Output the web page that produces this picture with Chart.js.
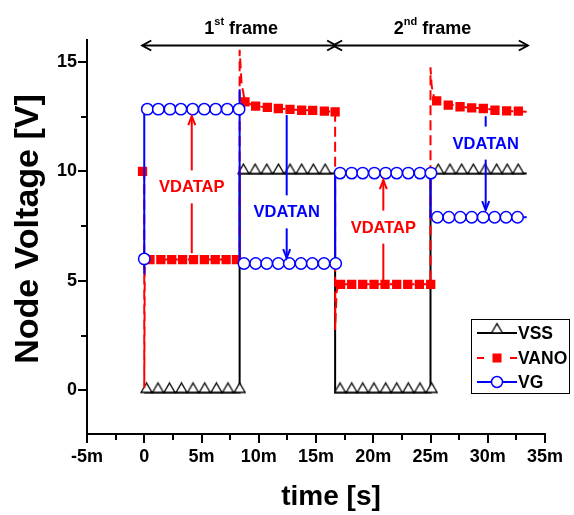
<!DOCTYPE html>
<html>
<head>
<meta charset="utf-8">
<script src="https://cdn.jsdelivr.net/npm/chart.js@4.4.1/dist/chart.umd.min.js"></script>
<style>
  html, body { margin: 0; padding: 0; background: #fff; }
</style>
</head>
<body>
<canvas id="chart" width="574" height="515"></canvas>
<script>
  // time in ms, voltage in V
  const xTickVals = [-5, -2.5, 0, 2.5, 5, 7.5, 10, 12.5, 15, 17.5, 20, 22.5, 25, 27.5, 30, 32.5, 35];
  const yTickVals = [0, 2.5, 5, 7.5, 10, 12.5, 15];

  // VSS waveform
  const vssPathT = [0, 8.33, 8.33, 16.67, 16.67, 25, 25, 33.4];
  const vssPathV = [-0.1, -0.1, 9.9, 9.9, -0.1, -0.1, 9.9, 9.9];
  const vssMarks = [
    [0.2, -0.1], [1.2, -0.1], [2.2, -0.1], [3.25, -0.1], [4.26, -0.1], [5.28, -0.1], [6.3, -0.1], [7.31, -0.1], [8.33, -0.1],
    [8.66, 9.9], [9.68, 9.9], [10.7, 9.9], [11.72, 9.9], [12.73, 9.9], [13.75, 9.9], [14.77, 9.9], [15.8, 9.9],
    [17.1, -0.1], [18.12, -0.1], [19.08, -0.1], [20.06, -0.1], [21.09, -0.1], [22.05, -0.1], [23.06, -0.1], [24.08, -0.1], [25.1, -0.1],
    [25.68, 9.9], [26.7, 9.9], [27.72, 9.9], [28.74, 9.9], [29.76, 9.9], [30.78, 9.9], [31.7, 9.9], [32.66, 9.9]
  ];

  // VANO waveform
  const vanoPathT = [-0.15, 0, 0, 0.05, 8.33, 8.33, 8.5, 8.8, 9.73, 10.75, 12.73, 14.71, 16.67, 16.67, 16.8, 17.0, 25, 25, 25.1, 25.3, 25.54, 27.58, 29.61, 31.65, 33.4];
  const vanoPathV = [10, 10, 0.1, 5.97, 5.97, 15.55, 14.0, 13.17, 12.98, 12.92, 12.83, 12.78, 12.72, 2.75, 4.5, 4.84, 4.84, 14.75, 13.9, 13.4, 13.22, 12.95, 12.87, 12.76, 12.72];
  const vanoMarks = [
    [-0.15, 10],
    [0.5, 5.97], [1.45, 5.97], [2.4, 5.97], [3.35, 5.97], [4.3, 5.97], [5.25, 5.97], [6.2, 5.97], [7.15, 5.97], [8.05, 5.97],
    [8.8, 13.17], [9.73, 12.98], [10.75, 12.92], [11.71, 12.87], [12.73, 12.83], [13.75, 12.79], [14.71, 12.78], [15.73, 12.75], [16.67, 12.72],
    [17.15, 4.84], [18.12, 4.84], [19.08, 4.84], [20.07, 4.84], [21.03, 4.84], [22.05, 4.84], [23.01, 4.84], [24.03, 4.84], [25.02, 4.84],
    [25.54, 13.22], [26.55, 13.02], [27.58, 12.95], [28.6, 12.9], [29.61, 12.87], [30.63, 12.79], [31.65, 12.76], [32.67, 12.75]
  ];

  // VG waveform
  const vgPathT = [0, 0, 8.33, 8.33, 8.33, 16.67, 16.67, 25, 25, 33.4];
  const vgPathV = [5.3, 12.84, 12.84, 13.75, 5.79, 5.79, 9.92, 9.92, 7.9, 7.9];
  const vgMarks = [
    [0, 6.0],
    [0.27, 12.84], [1.23, 12.84], [2.25, 12.84], [3.2, 12.84], [4.23, 12.84], [5.24, 12.84], [6.24, 12.84], [7.25, 12.84], [8.28, 12.84],
    [8.71, 5.79], [9.73, 5.79], [10.7, 5.79], [11.71, 5.79], [12.67, 5.79], [13.69, 5.79], [14.68, 5.79], [15.7, 5.79], [16.72, 5.79],
    [17.1, 9.92], [18.12, 9.92], [19.08, 9.92], [20.1, 9.92], [21.09, 9.92], [22.05, 9.92], [23.06, 9.92], [24.08, 9.92], [25.04, 9.92],
    [25.6, 7.9], [26.6, 7.9], [27.6, 7.9], [28.6, 7.9], [29.6, 7.9], [30.6, 7.9], [31.6, 7.9], [32.6, 7.9]
  ];

  // frame boundaries (ms) for the arrows on top
  const frameEdges = [0, 16.67, 33.5];
  const frameNames = [['1', 'st', ' frame'], ['2', 'nd', ' frame']];

  // VDATAP / VDATAN arrows: x, start, tip, text centre
  const notes = [
    { text: 'VDATAP', color: '#ff0000', t: 4.15, from: 6.26, tip: 12.52, at: 9.29 },
    { text: 'VDATAN', color: '#0000ff', t: 12.44, from: 12.57, tip: 6.04, at: 8.15 },
    { text: 'VDATAP', color: '#ff0000', t: 20.88, from: 5.03, tip: 9.6, at: 7.45 },
    { text: 'VDATAN', color: '#0000ff', t: 29.82, from: 12.52, tip: 8.23, at: 11.29 }
  ];

  const FONT = "'Liberation Sans', Arial, sans-serif";
  const RED = '#ff0000', BLUE = '#0000ff';

  const toXY = (ts, vs) => ts.map((t, i) => ({ x: t, y: vs[i] }));
  const marksXY = m => m.map(p => ({ x: p[0], y: p[1] }));

  // hollow triangle whose base sits on the point
  function triangleMark(size, color) {
    const c = document.createElement('canvas');
    c.width = size + 2; c.height = size * 2;
    const g = c.getContext('2d');
    const cx = c.width / 2, cy = c.height / 2;
    g.beginPath();
    g.moveTo(cx, cy - size * 0.85);
    g.lineTo(c.width - 1, cy);
    g.lineTo(1, cy);
    g.closePath();
    g.fillStyle = '#fff'; g.fill();
    g.lineWidth = 1.3; g.strokeStyle = color; g.stroke();
    return c;
  }
  const tri = triangleMark(11, '#000');

  function line(ctx, x1, y1, x2, y2) {
    ctx.beginPath(); ctx.moveTo(x1, y1); ctx.lineTo(x2, y2); ctx.stroke();
  }

  function chevron(ctx, x, y, dir, len, half) {
    // dir: 1 right / -1 left / 'up' / 'down'
    ctx.beginPath();
    if (dir === 1 || dir === -1) {
      ctx.moveTo(x - dir * len, y - half); ctx.lineTo(x, y); ctx.lineTo(x - dir * len, y + half);
    } else {
      const s = dir === 'up' ? 1 : -1;
      ctx.moveTo(x - half, y + s * len); ctx.lineTo(x, y); ctx.lineTo(x + half, y + s * len);
    }
    ctx.stroke();
  }

  const overlay = {
    id: 'overlay',
    afterDraw(chart) {
      const { ctx, chartArea: a, scales: { x, y } } = chart;
      ctx.save();

      // tick marks, major longer than minor
      ctx.strokeStyle = '#000'; ctx.lineWidth = 2;
      xTickVals.forEach(v => {
        const px = Math.round(x.getPixelForValue(v));
        line(ctx, px, a.bottom, px, a.bottom + (v % 5 === 0 ? 9 : 6));
      });
      yTickVals.forEach(v => {
        const py = Math.round(y.getPixelForValue(v));
        line(ctx, a.left, py, a.left - (v % 5 === 0 ? 9 : 6), py);
      });

      // axis titles
      ctx.fillStyle = '#000';
      ctx.textAlign = 'center'; ctx.textBaseline = 'middle';
      ctx.font = 'bold 28px ' + FONT;
      ctx.fillText('time [s]', 331, 497);
      ctx.save();
      ctx.translate(29, 229);
      ctx.rotate(-Math.PI / 2);
      ctx.font = 'bold 34px ' + FONT;
      ctx.fillText('Node Voltage [V]', 0, 0);
      ctx.restore();

      // frame arrows
      const ay = 45.5;
      ctx.lineWidth = 2;
      for (let i = 0; i < 2; i++) {
        const x1 = x.getPixelForValue(frameEdges[i]) - 2;
        const x2 = x.getPixelForValue(frameEdges[i + 1]) + (i === 0 ? 1 : 0);
        line(ctx, x1, ay, x2, ay);
        chevron(ctx, x1, ay, -1, 9, 5);
        chevron(ctx, x2, ay, 1, 9, 5);
        const parts = frameNames[i];
        ctx.fillStyle = '#000';
        ctx.textBaseline = 'alphabetic';
        const big = 'bold 18px ' + FONT, small = 'bold 11px ' + FONT;
        ctx.font = big; const w1 = ctx.measureText(parts[0]).width, w3 = ctx.measureText(parts[2]).width;
        ctx.font = small; const w2 = ctx.measureText(parts[1]).width;
        let tx = (x1 + x2) / 2 - (w1 + w2 + w3) / 2 + 2;
        ctx.textAlign = 'left';
        ctx.font = big; ctx.fillText(parts[0], tx, 34); tx += w1;
        ctx.font = small; ctx.fillText(parts[1], tx, 25); tx += w2;
        ctx.font = big; ctx.fillText(parts[2], tx, 34);
      }

      // VDATAP / VDATAN labels
      notes.forEach(n => {
        const px = x.getPixelForValue(n.t);
        const p0 = y.getPixelForValue(n.from), p1 = y.getPixelForValue(n.tip), pc = y.getPixelForValue(n.at);
        const gap = 16.5;
        ctx.strokeStyle = n.color; ctx.fillStyle = n.color; ctx.lineWidth = 2;
        const up = p1 < p0;
        if (up) {
          line(ctx, px, p0, px, pc + gap);
          line(ctx, px, pc - gap, px, p1);
          chevron(ctx, px, p1, 'up', 9, 3.5);
        } else {
          line(ctx, px, p0, px, pc - gap);
          line(ctx, px, pc + gap, px, p1);
          chevron(ctx, px, p1, 'down', 9, 3.5);
        }
        ctx.font = 'bold 16.5px ' + FONT;
        ctx.textAlign = 'center'; ctx.textBaseline = 'middle';
        ctx.fillText(n.text, px, pc + 1);
      });

      // legend box
      const lx = 471, ly = 319, lw = 98, lh = 74;
      ctx.lineWidth = 1; ctx.strokeStyle = '#000';
      ctx.fillStyle = '#fff';
      ctx.fillRect(lx, ly, lw, lh);
      ctx.strokeRect(lx + 0.5, ly + 0.5, lw, lh);
      const rows = [
        { label: 'VSS', y: 333 },
        { label: 'VANO', y: 358 },
        { label: 'VG', y: 382 }
      ];
      const sx1 = 477, sx2 = 517, mx = 497;
      // VSS
      ctx.strokeStyle = '#000'; ctx.lineWidth = 2; ctx.setLineDash([]);
      line(ctx, sx1, rows[0].y, sx2, rows[0].y);
      ctx.drawImage(tri, mx - tri.width / 2, rows[0].y - tri.height / 2);
      // VANO
      ctx.strokeStyle = RED;
      line(ctx, sx1, rows[1].y, sx1 + 7, rows[1].y);
      line(ctx, sx2 - 7, rows[1].y, sx2, rows[1].y);
      ctx.fillStyle = RED; ctx.fillRect(mx - 4.5, rows[1].y - 4.5, 9, 9);
      // VG
      ctx.strokeStyle = BLUE; line(ctx, sx1, rows[2].y, sx2, rows[2].y);
      ctx.beginPath(); ctx.arc(mx, rows[2].y, 5.5, 0, Math.PI * 2);
      ctx.fillStyle = '#fff'; ctx.fill(); ctx.lineWidth = 1.5; ctx.stroke();
      ctx.fillStyle = '#000'; ctx.font = 'bold 17.5px ' + FONT;
      ctx.textAlign = 'left'; ctx.textBaseline = 'middle';
      rows.forEach(r => ctx.fillText(r.label, 518, r.y + 1));

      ctx.restore();
    }
  };

  const lineSet = (label, data, color, dash, order) => ({
    label, data, borderColor: color, borderWidth: 2, borderDash: dash,
    pointRadius: 0, tension: 0, fill: false, order
  });
  const markSet = (label, data, style, radius, fillColor, strokeColor, order) => ({
    label, data, showLine: false, pointStyle: style, pointRadius: radius,
    pointBackgroundColor: fillColor, pointBorderColor: strokeColor, pointBorderWidth: 1.5, order
  });

  new Chart(document.getElementById('chart'), {
    type: 'line',
    data: {
      datasets: [
        markSet('VG marks', marksXY(vgMarks), 'circle', 5.7, '#fff', BLUE, 0),
        lineSet('VG', toXY(vgPathT, vgPathV), BLUE, [], 1),
        markSet('VANO marks', marksXY(vanoMarks), 'rect', 5.5, RED, RED, 2),
        lineSet('VANO', toXY(vanoPathT, vanoPathV), RED, [10, 5], 3),
        markSet('VSS marks', marksXY(vssMarks), tri, 5, '#fff', '#000', 4),
        lineSet('VSS', toXY(vssPathT, vssPathV), '#000', [], 5)
      ]
    },
    options: {
      responsive: false,
      animation: false,
      layout: { padding: { left: 0, top: 40, right: 29, bottom: 0 } },
      plugins: { legend: { display: false }, tooltip: { enabled: false } },
      scales: {
        x: {
          type: 'linear', min: -5, max: 35,
          afterBuildTicks: s => { s.ticks = xTickVals.map(v => ({ value: v })); },
          afterFit: s => { s.height = 81; },
          grid: { display: false, drawTicks: true, tickLength: 9 },
          border: { display: true, color: '#000', width: 2 },
          ticks: {
            color: '#000', padding: 3, maxRotation: 0, autoSkip: false,
            font: { family: FONT, size: 18, weight: 'bold' },
            callback: v => v === 0 ? '0' : (v % 5 === 0 ? v + 'm' : '')
          }
        },
        y: {
          type: 'linear', min: -2, max: 16,
          afterBuildTicks: s => { s.ticks = yTickVals.map(v => ({ value: v })); },
          afterFit: s => { s.width = 87; },
          grid: { display: false, drawTicks: true, tickLength: 9 },
          border: { display: true, color: '#000', width: 2 },
          ticks: {
            color: '#000', padding: 1,
            font: { family: FONT, size: 18, weight: 'bold' },
            callback: v => (v % 5 === 0 ? String(v) : '')
          }
        }
      }
    },
    plugins: [overlay]
  });
</script>
</body>
</html>
